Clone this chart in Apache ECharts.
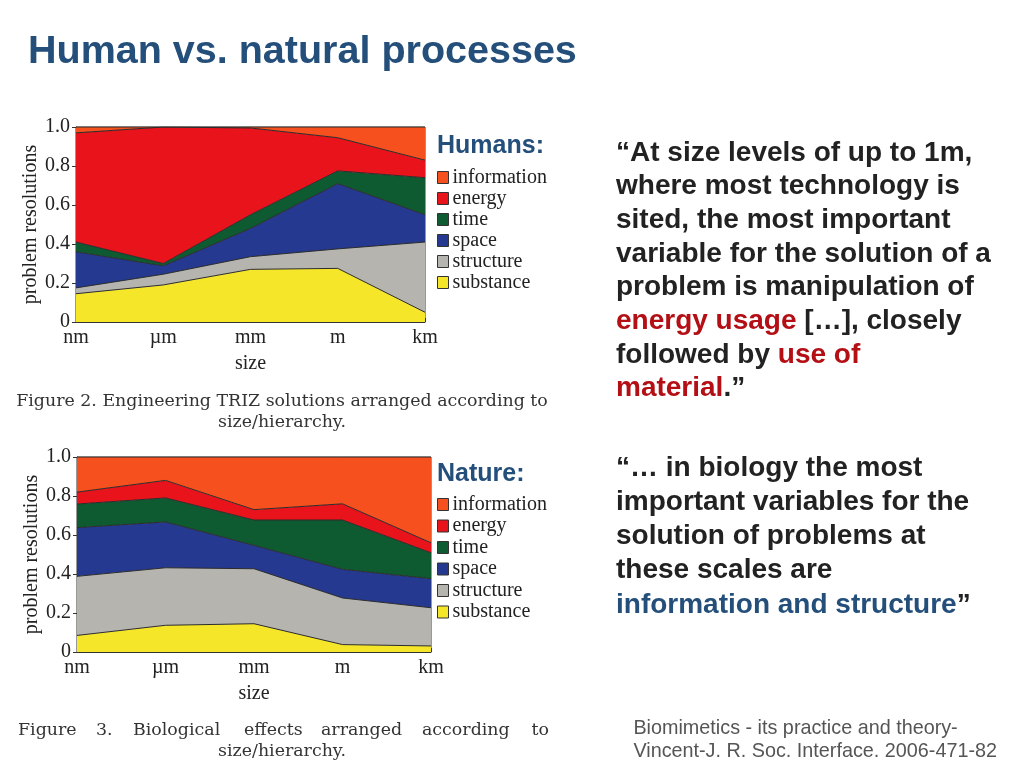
<!DOCTYPE html>
<html>
<head>
<meta charset="utf-8">
<title>Human vs. natural processes</title>
<script src="https://cdn.jsdelivr.net/npm/echarts@6/dist/echarts.min.js"></script>
<style>
  html, body { margin: 0; padding: 0; background: #fff; }
  #main { width: 1024px; height: 768px; }
</style>
</head>
<body>
<div id="main"></div>
<script>
// categories (size levels)
const sizes = ['nm', 'µm', 'mm', 'm', 'km']
const yTicks = [0, 0.2, 0.4, 0.6, 0.8, 1.0]
const variables = ['information', 'energy', 'time', 'space', 'structure', 'substance']

// Figure 2: engineering TRIZ solutions (humans), share per size level
const humSubstance   = [0.145, 0.19, 0.27, 0.275, 0.05]
const humStructure   = [0.03, 0.055, 0.065, 0.10, 0.36]
const humSpace       = [0.185, 0.043, 0.145, 0.335, 0.14]
const humTime        = [0.05, 0.012, 0.07, 0.065, 0.19]
const humEnergy      = [0.56, 0.70, 0.445, 0.17, 0.09]
const humInformation = [0.03, 0.0, 0.005, 0.055, 0.17]

// Figure 3: biological effects (nature)
const natSubstance   = [0.085, 0.137, 0.145, 0.038, 0.031]
const natStructure   = [0.303, 0.295, 0.282, 0.239, 0.196]
const natSpace       = [0.25, 0.235, 0.12, 0.147, 0.149]
const natTime        = [0.121, 0.123, 0.13, 0.253, 0.133]
const natEnergy      = [0.061, 0.09, 0.053, 0.083, 0.051]
const natInformation = [0.18, 0.12, 0.27, 0.24, 0.44]

const colors = {
    substance: '#f6e62a',
    structure: '#b5b4ae',
    space: '#24398f',
    time: '#0e5a31',
    energy: '#e8131b',
    information: '#f5501d'
}

const serif = '"Liberation Serif", "DejaVu Serif", serif'
const capSerif = '"DejaVu Serif", "Liberation Serif", serif'
const sans = '"Liberation Sans", Arial, sans-serif'
const titleBlue = '#244f7b'
const quoteRed = '#b30f15'

function makeSeries(idx, stack, data) {
    // bottom to top
    const order = ['substance', 'structure', 'space', 'time', 'energy', 'information']
    return order.map(name => ({
        name: name,
        type: 'line',
        stack: stack,
        xAxisIndex: idx,
        yAxisIndex: idx,
        symbol: 'none',
        silent: true,
        lineStyle: { width: 1, color: '#2b2b2b' },
        itemStyle: { color: colors[name] },
        areaStyle: { color: colors[name], opacity: 1 },
        data: data[name]
    }))
}

function makeXAxis(idx) {
    return {
        type: 'category',
        gridIndex: idx,
        data: sizes,
        boundaryGap: false,
        name: 'size',
        nameLocation: 'middle',
        nameGap: 32,
        nameTextStyle: { fontFamily: serif, fontSize: 20, color: '#222' },
        axisLine: { lineStyle: { color: '#333', width: 1 } },
        axisTick: { show: true, inside: true, length: 4, lineStyle: { color: '#333' } },
        axisLabel: { fontFamily: serif, fontSize: 20, color: '#222', margin: 6 },
        splitLine: { show: false }
    }
}

function makeYAxis(idx) {
    return {
        type: 'value',
        gridIndex: idx,
        min: 0,
        max: 1,
        interval: 0.2,
        name: 'problem resolutions',
        nameLocation: 'middle',
        nameRotate: 90,
        nameGap: 32,
        nameTextStyle: { fontFamily: serif, fontSize: 20, color: '#222' },
        axisLine: { show: true, lineStyle: { color: '#333', width: 1 } },
        axisTick: { show: true, length: 4, lineStyle: { color: '#333' } },
        axisLabel: {
            fontFamily: serif, fontSize: 20, color: '#222', margin: 6,
            formatter: v => (v === 0 ? '0' : v.toFixed(1))
        },
        splitLine: { show: false }
    }
}

function makeLegend(top, gap) {
    return {
        orient: 'vertical',
        left: 432,
        top: top,
        data: variables,
        icon: 'rect',
        itemWidth: 11,
        itemHeight: 12,
        itemGap: gap,
        selectedMode: false,
        itemStyle: { borderColor: '#333', borderWidth: 1 },
        textStyle: { fontFamily: serif, fontSize: 20, lineHeight: 20, color: '#222', padding: [0, 0, 0, -1] }
    }
}

let chart = echarts.init(document.getElementById('main'), null, { renderer: 'canvas' })

const quote1 = [
    '“At size levels of up to 1m,',
    'where most technology is',
    'sited, the most important',
    'variable for the solution of a',
    'problem is manipulation of',
    '{r|energy usage} […], closely',
    'followed by {r|use of}',
    '{r|material}.”'
].join('\n')

const quote2 = [
    '“… in biology the most',
    'important variables for the',
    'solution of problems at',
    'these scales are',
    '{b|information and structure}”'
].join('\n')

const quoteStyle = {
    fontFamily: sans,
    fontWeight: 'bold',
    fontSize: 28,
    lineHeight: 33.7,
    fill: '#222'
}

function captionText(x, y, text, align) {
    return {
        type: 'text',
        x: x,
        y: y,
        style: {
            text: text, fontFamily: capSerif, fontSize: 17.4, fill: '#333',
            align: align || 'left', verticalAlign: 'middle'
        }
    }
}

chart.setOption({
    animation: false,
    grid: [
        { left: 76, top: 127, width: 349, height: 195, show: true, borderColor: '#333', borderWidth: 1 },
        { left: 77, top: 457, width: 354, height: 195, show: true, borderColor: '#333', borderWidth: 1 }
    ],
    xAxis: [makeXAxis(0), makeXAxis(1)],
    yAxis: [makeYAxis(0), makeYAxis(1)],
    legend: [makeLegend(162.5, 1), makeLegend(489.5, 1.5)],
    series: [].concat(
        makeSeries(0, 'humans', {
            substance: humSubstance, structure: humStructure, space: humSpace,
            time: humTime, energy: humEnergy, information: humInformation
        }),
        makeSeries(1, 'nature', {
            substance: natSubstance, structure: natStructure, space: natSpace,
            time: natTime, energy: natEnergy, information: natInformation
        })
    ),
    graphic: [
        {
            type: 'text', x: 28, y: 52,
            style: { text: 'Human vs. natural processes', fontFamily: sans, fontWeight: 'bold', fontSize: 39.5, fill: titleBlue, verticalAlign: 'middle' }
        },
        {
            type: 'text', x: 437, y: 146,
            style: { text: 'Humans:', fontFamily: sans, fontWeight: 'bold', fontSize: 25, fill: titleBlue, verticalAlign: 'middle' }
        },
        {
            type: 'text', x: 437, y: 474,
            style: { text: 'Nature:', fontFamily: sans, fontWeight: 'bold', fontSize: 25, fill: titleBlue, verticalAlign: 'middle' }
        },
        {
            type: 'text', left: 616, top: 136,
            style: Object.assign({ text: quote1, rich: { r: { fill: quoteRed, fontFamily: sans, fontWeight: 'bold', fontSize: 28, lineHeight: 33.7 } } }, quoteStyle)
        },
        {
            type: 'text', left: 616, top: 451,
            style: Object.assign({ text: quote2, rich: { b: { fill: titleBlue, fontFamily: sans, fontWeight: 'bold', fontSize: 28, lineHeight: 34.2 } } }, quoteStyle, { lineHeight: 34.2 })
        },
        {
            type: 'text', right: 27, top: 717,
            style: {
                text: 'Biomimetics - its practice and theory-\nVincent-J. R. Soc. Interface. 2006-471-82',
                fontFamily: sans, fontSize: 19.8, lineHeight: 23, fill: '#555', align: 'right'
            }
        },
        // figure captions
        captionText(282, 401, 'Figure 2. Engineering TRIZ solutions arranged according to', 'center'),
        captionText(282, 422, 'size/hierarchy.', 'center'),
        captionText(18, 730, 'Figure'),
        captionText(96, 730, '3.'),
        captionText(133, 730, 'Biological'),
        captionText(244, 730, 'effects'),
        captionText(321, 730, 'arranged'),
        captionText(422, 730, 'according'),
        captionText(549, 730, 'to', 'right'),
        captionText(282, 751, 'size/hierarchy.', 'center')
    ]
})

window.addEventListener('resize', () => {
    chart.resize()
})
</script>
</body>
</html>
